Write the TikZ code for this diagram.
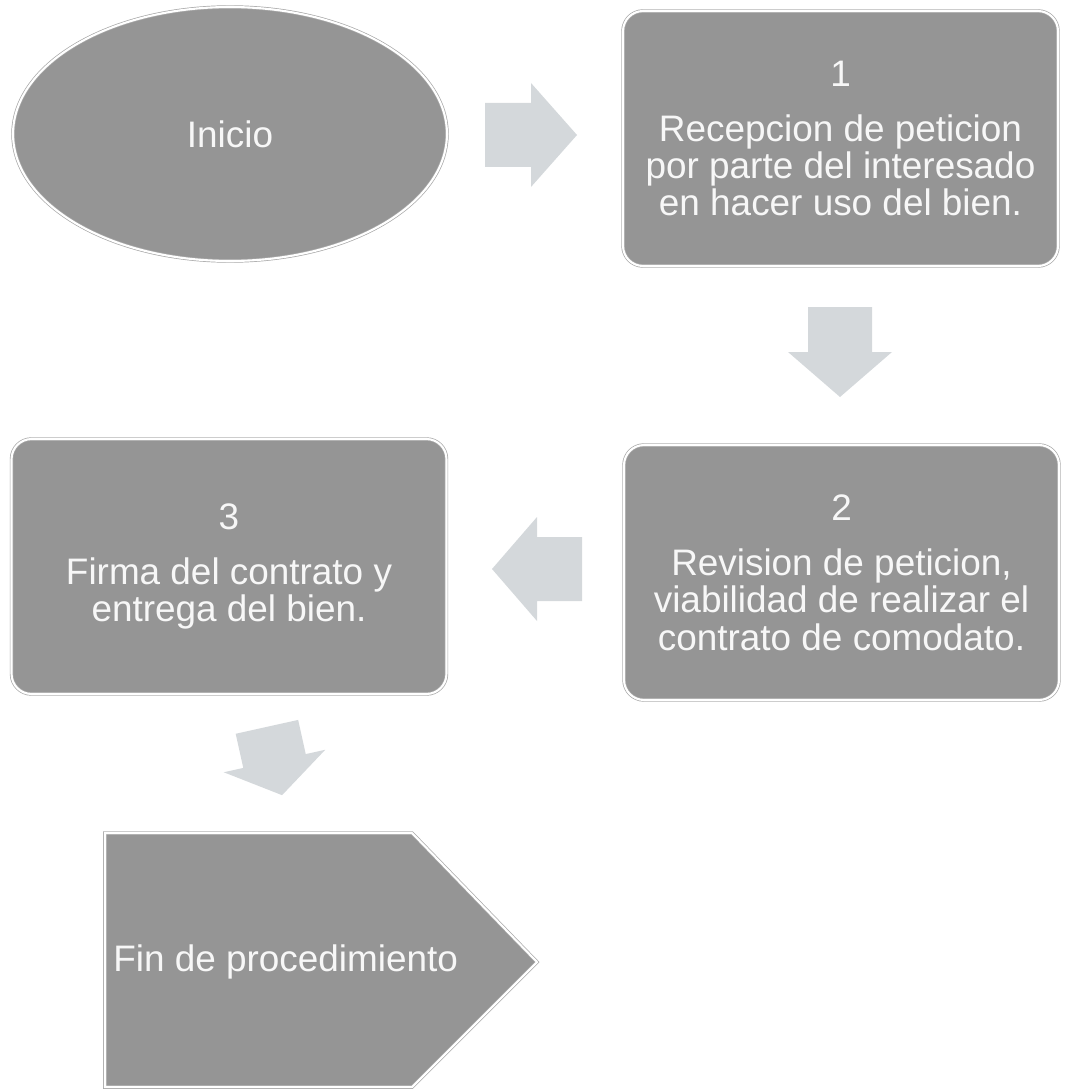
\documentclass[tikz,border=0pt]{standalone}
\usepackage{fontspec}
\setmainfont{Liberation Sans}
\usepackage{xcolor}
\definecolor{cFill}{HTML}{959595}
\definecolor{cEdge}{HTML}{A8A8A8}
\definecolor{cArrow}{HTML}{D4D8DB}
\definecolor{cText}{HTML}{F7F7F7}
\usepackage{tikz}
\usetikzlibrary{positioning,shapes.geometric}
\tikzset{
  node-shape/.style={fill=cFill,draw=cEdge,double=white,double distance=1.2pt,
    line width=0.4pt,text=cText,align=center,inner sep=0pt},
  node-start/.style={node-shape,ellipse,minimum width=8.68cm,minimum height=5.08cm},
  node-box/.style={node-shape,rectangle,rounded corners=0.4cm,
    minimum width=8.7cm,minimum height=5.1cm},
  node-end/.style={fill=cFill,draw=cEdge,double=white,double distance=1.2pt,line width=0.4pt},
  node-label/.style={text=cText,inner sep=0pt},
  % flecha de bloque centrada en el origen; #1 = media longitud
  pics/flecha/.style={code={
    \fill[cArrow] (-#1,-32) -- (0,-32) -- (0,-52) -- (#1,0) -- (0,52) -- (0,32) -- (-#1,32) -- cycle;}},
}
\begin{document}
\begin{tikzpicture}[x=0.02cm,y=-0.02cm,font=\fontsize{21}{21.3}\selectfont]
  \useasboundingbox (0,0) rectangle (1064,1091);
  \node[node-start] (ini) at (230,134)   {Inicio};
  \node[node-box]   (p1)  at (840.5,138.5) {1\\[10pt]Recepcion de peticion\\por parte del interesado\\en hacer uso del bien.};
  \node[node-box]   (p2)  at (841.5,572.5) {2\\[10pt]Revision de peticion,\\viabilidad de realizar el\\contrato de comodato.};
  \node[node-box]   (p3)  at (229,566.5)   {3\\[10pt]Firma del contrato y\\entrega del bien.};
  \draw[node-end] (105,833) -- (412,833) -- (537,962) -- (412,1087) -- (105,1087) -- cycle;
  \node[node-label,anchor=west] (fin) at (113,962) {Fin de procedimiento};
  \pic at (531,135) {flecha=46};
  \pic[rotate=-90] at (840,352) {flecha=45};
  \pic[rotate=180] at (537,569) {flecha=45};
  \pic[rotate=-77.5] at (274.5,761) {flecha=35};
\end{tikzpicture}
\end{document}
